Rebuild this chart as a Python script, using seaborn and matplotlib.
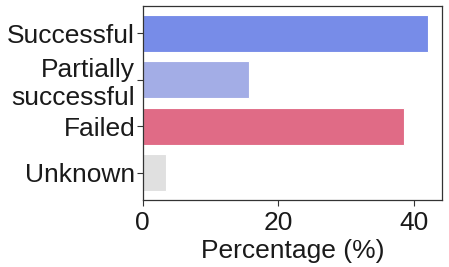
import pandas as pd
import matplotlib
import matplotlib.pyplot as plt
import seaborn as sns

categories = ["Successful", "Partially\nsuccessful", "Failed", "Unknown"]
values = [42.1, 15.7, 38.6, 3.4]
colors = ["#778ce8", "#a3ade6", "#e06b86", "#e0e0e0"]

df = pd.DataFrame({"outcome": categories, "pct": values})

sns.set_style("ticks")
plt.rcParams["font.family"] = ["Liberation Sans", "DejaVu Sans"]

fig = plt.figure(figsize=(4.49, 2.67), dpi=100)
ax = fig.add_axes([0.318, 0.25, 0.667, 0.728])

sns.barplot(data=df, x="pct", y="outcome", hue="outcome", palette=colors,
            saturation=1, legend=False, width=0.8, edgecolor="white",
            linewidth=0.8, ax=ax)

ax.set_xlim(0, 44.2)
ax.set_ylim(3.59, -0.59)
ax.set_xticks([0, 20, 40])
ax.set_xlabel("Percentage (%)", fontsize=19, color="#1a1a1a", labelpad=3)
ax.set_ylabel("")
ax.tick_params(axis="both", labelsize=19, labelcolor="#1a1a1a", length=4,
               color="#333333", width=0.8)
ax.tick_params(axis="y", pad=1.5)
for s in ax.spines.values():
    s.set_color("#333333")
    s.set_linewidth(0.9)

fig.savefig("out.png", dpi=100)
